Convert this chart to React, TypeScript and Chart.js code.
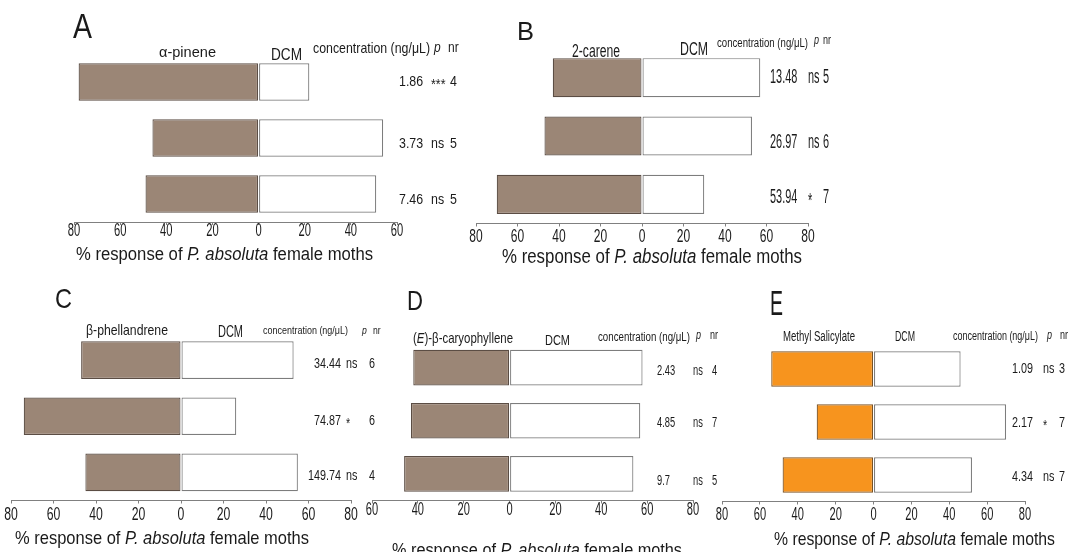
import React, { useEffect, useRef } from 'react';
import { Chart, registerables } from 'chart.js';

Chart.register(...registerables);

// ---------- DATA ----------
// Panel A: alpha-pinene
const concA = ['1.86', '3.73', '7.46'];
const compA = [78, 46, 49];
const dcmA = [22, 54, 51];
const pA = ['***', 'ns', 'ns'];
const nrA = ['4', '5', '5'];

// Panel B: 2-carene
const concB = ['13.48', '26.97', '53.94'];
const compB = [43, 47, 70];
const dcmB = [57, 53, 30];
const pB = ['ns', 'ns', '*'];
const nrB = ['5', '6', '7'];

// Panel C: beta-phellandrene
const concC = ['34.44', '74.87', '149.74'];
const compC = [47, 74, 45];
const dcmC = [53, 26, 55];
const pC = ['ns', '*', 'ns'];
const nrC = ['6', '6', '4'];

// Panel D: (E)-beta-caryophyllene
const concD = ['2.43', '4.85', '9.7'];
const compD = [42, 43, 46];
const dcmD = [58, 57, 54];
const pD = ['ns', 'ns', 'ns'];
const nrD = ['4', '7', '5'];

// Panel E: methyl salicylate
const concE = ['1.09', '2.17', '4.34'];
const compE = [54, 30, 48];
const dcmE = [46, 70, 52];
const pE = ['ns', '*', 'ns'];
const nrE = ['3', '7', '7'];

// ---------- STYLE ----------
const W = 1072;
const H = 552;
const FONT = '"Liberation Sans", Arial, sans-serif';
const BROWN = '#9b8676';
const BROWN_BORDER = '#5b4d44';
const ORANGE = '#f7941e';
const ORANGE_BORDER = '#7a5224';
const TXT = '#1a1a1a';
const TICK_LEN = 3;

type Part = { t: string; italic?: boolean };
type TextItem = {
  parts: Part[];
  x: number;
  y: number;
  size: number;
  w?: number; // target width (fits horizontally)
  sx?: number; // horizontal scale
  align?: CanvasTextAlign;
};

type PanelCfg = {
  id: string;
  labels: TextItem[];
  title: TextItem;
  conc: string[];
  comp: number[];
  dcm: number[];
  p: string[];
  nr: string[];
  color: string;
  border: string;
  min: number;
  max: number;
  area: { l: number; r: number; t: number; b: number };
  tick: { size: number; sx: number; dy: number };
  rows: { concX: number; concAlign: CanvasTextAlign; pX: number; nrX: number; size: number; sx: number; dy: number[] };
};

const TITLE_PARTS: Part[] = [{ t: '% response of ' }, { t: 'P. absoluta', italic: true }, { t: ' female moths' }];
const HEAD = 'concentration (ng/μL)';

const panels: PanelCfg[] = [
  {
    id: 'A',
    labels: [
      { parts: [{ t: 'A' }], x: 73, y: 38, size: 35, w: 19 },
      { parts: [{ t: 'α-pinene' }], x: 187.5, y: 57, size: 15.5, w: 57, align: 'center' },
      { parts: [{ t: 'DCM' }], x: 286.5, y: 60, size: 16, w: 31, align: 'center' },
      { parts: [{ t: HEAD }], x: 313, y: 53, size: 15, w: 117 },
      { parts: [{ t: 'p', italic: true }], x: 434, y: 52, size: 15, sx: 0.8 },
      { parts: [{ t: 'nr' }], x: 448, y: 52, size: 15, sx: 0.8 },
    ],
    title: { parts: TITLE_PARTS, x: 224.5, y: 260, size: 18, w: 297, align: 'center' },
    conc: concA, comp: compA, dcm: dcmA, p: pA, nr: nrA,
    color: BROWN, border: BROWN_BORDER, min: -80, max: 60,
    area: { l: 74, r: 397, t: 54, b: 222 },
    tick: { size: 18, sx: 0.62, dy: 14 },
    rows: { concX: 399, concAlign: 'left', pX: 431, nrX: 450, size: 15.5, sx: 0.8, dy: [4, 10, 10] },
  },
  {
    id: 'B',
    labels: [
      { parts: [{ t: 'B' }], x: 517, y: 40, size: 26, w: 17 },
      { parts: [{ t: '2-carene' }], x: 596, y: 56.5, size: 18, w: 48, align: 'center' },
      { parts: [{ t: 'DCM' }], x: 694, y: 55, size: 18, w: 28, align: 'center' },
      { parts: [{ t: HEAD }], x: 717, y: 46.5, size: 12, w: 91 },
      { parts: [{ t: 'p', italic: true }], x: 814, y: 44, size: 12, sx: 0.75 },
      { parts: [{ t: 'nr' }], x: 823, y: 44, size: 12, sx: 0.75 },
    ],
    title: { parts: TITLE_PARTS, x: 652, y: 263, size: 19.5, w: 300, align: 'center' },
    conc: concB, comp: compB, dcm: dcmB, p: pB, nr: nrB,
    color: BROWN, border: BROWN_BORDER, min: -80, max: 80,
    area: { l: 476, r: 808, t: 48.5, b: 223.5 },
    tick: { size: 18.5, sx: 0.65, dy: 18.3 },
    rows: { concX: 770, concAlign: 'left', pX: 808, nrX: 823, size: 19.5, sx: 0.56, dy: [5.8, 12.2, 8.2] },
  },
  {
    id: 'C',
    labels: [
      { parts: [{ t: 'C' }], x: 55, y: 308, size: 28, w: 17 },
      { parts: [{ t: 'β-phellandrene' }], x: 127, y: 335, size: 14.5, w: 82, align: 'center' },
      { parts: [{ t: 'DCM' }], x: 230.5, y: 337, size: 15.8, w: 25, align: 'center' },
      { parts: [{ t: HEAD }], x: 263, y: 334, size: 11.5, w: 85 },
      { parts: [{ t: 'p', italic: true }], x: 362, y: 334, size: 11.5, sx: 0.75 },
      { parts: [{ t: 'nr' }], x: 373, y: 334, size: 11.5, sx: 0.75 },
    ],
    title: { parts: TITLE_PARTS, x: 162, y: 543.5, size: 17.7, w: 294, align: 'center' },
    conc: concC, comp: compC, dcm: dcmC, p: pC, nr: nrC,
    color: BROWN, border: BROWN_BORDER, min: -80, max: 80,
    area: { l: 11, r: 351, t: 332, b: 500.5 },
    tick: { size: 18, sx: 0.68, dy: 19.3 },
    rows: { concX: 341, concAlign: 'right', pX: 346, nrX: 369, size: 14, sx: 0.77, dy: [8, 9, 7.5] },
  },
  {
    id: 'D',
    labels: [
      { parts: [{ t: 'D' }], x: 407, y: 310, size: 28, w: 16 },
      {
        parts: [{ t: '(' }, { t: 'E', italic: true }, { t: ')-β-caryophyllene' }],
        x: 413, y: 342.5, size: 14.5, w: 100,
      },
      { parts: [{ t: 'DCM' }], x: 557.5, y: 345, size: 15, w: 25, align: 'center' },
      { parts: [{ t: HEAD }], x: 598, y: 340.5, size: 12, w: 92 },
      { parts: [{ t: 'p', italic: true }], x: 696, y: 339, size: 12, sx: 0.75 },
      { parts: [{ t: 'nr' }], x: 710, y: 339, size: 12, sx: 0.75 },
    ],
    title: { parts: TITLE_PARTS, x: 537, y: 556, size: 18, w: 290, align: 'center' },
    conc: concD, comp: compD, dcm: dcmD, p: pD, nr: nrD,
    color: BROWN, border: BROWN_BORDER, min: -60, max: 80,
    area: { l: 372, r: 693, t: 341, b: 500.5 },
    tick: { size: 18.5, sx: 0.6, dy: 14.3 },
    rows: { concX: 657, concAlign: 'left', pX: 693, nrX: 712, size: 15, sx: 0.62, dy: [7.5, 6, 11] },
  },
  {
    id: 'E',
    labels: [
      { parts: [{ t: 'E' }], x: 770, y: 315, size: 35, w: 13 },
      { parts: [{ t: 'Methyl Salicylate' }], x: 819, y: 340.5, size: 14, w: 72, align: 'center' },
      { parts: [{ t: 'DCM' }], x: 905, y: 340.5, size: 15, w: 20, align: 'center' },
      { parts: [{ t: HEAD }], x: 953, y: 340, size: 12, w: 85 },
      { parts: [{ t: 'p', italic: true }], x: 1047, y: 339, size: 12, sx: 0.75 },
      { parts: [{ t: 'nr' }], x: 1060, y: 339, size: 12, sx: 0.75 },
    ],
    title: { parts: TITLE_PARTS, x: 914.5, y: 545, size: 17.7, w: 281, align: 'center' },
    conc: concE, comp: compE, dcm: dcmE, p: pE, nr: nrE,
    color: ORANGE, border: ORANGE_BORDER, min: -80, max: 80,
    area: { l: 722, r: 1025, t: 342.5, b: 501.5 },
    tick: { size: 18.5, sx: 0.6, dy: 18.3 },
    rows: { concX: 1012, concAlign: 'left', pX: 1043, nrX: 1059, size: 14, sx: 0.77, dy: [4.3, 5.2, 5.5] },
  },
];

function fontOf(p: Part, size: number) {
  return `${p.italic ? 'italic ' : ''}${size}px ${FONT}`;
}

function drawText(ctx: CanvasRenderingContext2D, item: TextItem) {
  const { parts, x, y, size } = item;
  const widths = parts.map((p) => {
    ctx.font = fontOf(p, size);
    return ctx.measureText(p.t).width;
  });
  const natural = widths.reduce((a, b) => a + b, 0);
  const sx = item.w ? item.w / Math.max(natural, 1) : item.sx ?? 1;
  const total = natural * sx;
  const align = item.align ?? 'left';
  const left = align === 'center' ? x - total / 2 : align === 'right' ? x - total : x;
  ctx.save();
  ctx.translate(left, y);
  ctx.scale(sx, 1);
  ctx.textAlign = 'left';
  ctx.textBaseline = 'alphabetic';
  let cx = 0;
  parts.forEach((p, i) => {
    ctx.font = fontOf(p, size);
    ctx.fillText(p.t, cx, 0);
    cx += widths[i];
  });
  ctx.restore();
}

function makeTextPlugin(cfg: PanelCfg) {
  return {
    id: 'panelText' + cfg.id,
    afterDraw(chart: any) {
      const ctx: CanvasRenderingContext2D = chart.ctx;
      const yScale = chart.scales.y;
      const xScale = chart.scales.x;
      ctx.save();
      ctx.fillStyle = TXT;
      cfg.labels.forEach((it) => drawText(ctx, it));
      // tick labels from the x scale's own ticks
      xScale.ticks.forEach((tk: any, i: number) => {
        const label = tk.label != null ? String(tk.label) : String(Math.abs(tk.value));
        drawText(ctx, {
          parts: [{ t: label }],
          x: xScale.getPixelForTick(i),
          y: xScale.top + cfg.tick.dy,
          size: cfg.tick.size,
          sx: cfg.tick.sx,
          align: 'center',
        });
      });
      // per-row annotations
      const r = cfg.rows;
      cfg.conc.forEach((c, i) => {
        const y = yScale.getPixelForValue(i) + (r.dy[i] ?? 0);
        drawText(ctx, { parts: [{ t: c }], x: r.concX, y, size: r.size, sx: r.sx, align: r.concAlign });
        const isStar = cfg.p[i].indexOf('*') >= 0;
        drawText(ctx, {
          parts: [{ t: cfg.p[i] }],
          x: r.pX,
          y: isStar ? y + r.size * 0.22 : y,
          size: r.size,
          sx: r.sx,
        });
        drawText(ctx, { parts: [{ t: cfg.nr[i] }], x: r.nrX, y, size: r.size, sx: r.sx });
      });
      drawText(ctx, cfg.title);
      ctx.restore();
    },
  };
}

function Panel({ cfg }: { cfg: PanelCfg }) {
  const ref = useRef<HTMLCanvasElement | null>(null);
  useEffect(() => {
    if (!ref.current) return;
    const chart = new Chart(ref.current, {
      type: 'bar',
      data: {
        labels: cfg.conc,
        datasets: [
          {
            label: 'compound',
            data: cfg.comp.map((v) => -v),
            backgroundColor: cfg.color,
            borderColor: cfg.border,
            borderWidth: 1.2,
            borderSkipped: false,
            barPercentage: 0.67,
            categoryPercentage: 1,
          },
          {
            label: 'DCM',
            data: cfg.dcm,
            backgroundColor: '#ffffff',
            borderColor: '#7d7d7d',
            borderWidth: 1.2,
            borderSkipped: false,
            barPercentage: 0.67,
            categoryPercentage: 1,
          },
        ],
      },
      options: {
        indexAxis: 'y',
        responsive: false,
        animation: false,
        events: [],
        layout: {
          padding: {
            left: cfg.area.l,
            right: W - cfg.area.r,
            top: cfg.area.t,
            bottom: H - cfg.area.b - TICK_LEN,
          },
        },
        plugins: { legend: { display: false }, tooltip: { enabled: false }, title: { display: false } },
        scales: {
          y: { type: 'category', stacked: true, display: false },
          x: {
            type: 'linear',
            stacked: true,
            min: cfg.min,
            max: cfg.max,
            grid: { display: true, drawOnChartArea: false, drawTicks: true, tickLength: TICK_LEN, color: '#808080' },
            border: { display: true, color: '#808080', width: 1 },
            ticks: {
              display: false,
              stepSize: 20,
              autoSkip: false,
              callback: (v: any) => String(Math.abs(Number(v))),
            },
            title: { display: false },
          },
        },
      },
      plugins: [makeTextPlugin(cfg)],
    } as any);
    return () => chart.destroy();
  }, [cfg]);
  return (
    <canvas
      ref={ref}
      width={W}
      height={H}
      style={{ position: 'absolute', left: 0, top: 0, width: W, height: H }}
    />
  );
}

export default function App() {
  return (
    <div style={{ position: 'fixed', left: 0, top: 0, width: W, height: H, background: '#ffffff', overflow: 'hidden' }}>
      {panels.map((p) => (
        <Panel key={p.id} cfg={p} />
      ))}
    </div>
  );
}
